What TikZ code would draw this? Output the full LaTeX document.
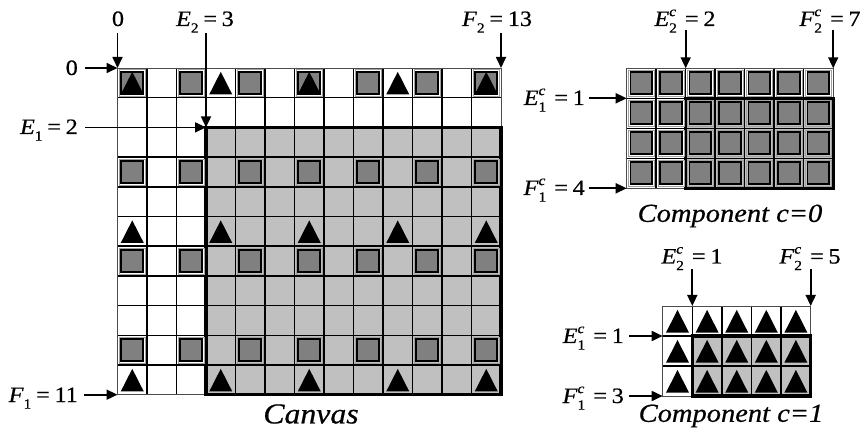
\documentclass[tikz,border=0pt]{standalone}
\usepackage{fontspec}
\setmainfont{Liberation Serif}[FakeStretch=1.1,FakeBold=0.6]
\usetikzlibrary{arrows.meta}
\definecolor{cellshade}{HTML}{C0C0C0}
\definecolor{sqfill}{HTML}{808080}
\definecolor{halo}{HTML}{A0A0A0}
\newcommand\lfont{\fontsize{22}{24}\selectfont}
\newcommand\smallf{\fontsize{14}{14}\selectfont}
\newcommand\labsub[2]{\textit{#1}\raisebox{-0.3em}{\smallf #2}}
\newcommand\labss[3]{\textit{#1}\makebox[0.5em][l]{\rlap{\raisebox{-0.3em}{\smallf #2}}\raisebox{0.45em}{\smallf\textit{#3}}}}
\newcommand\eqs{\hspace{0.22em}=\hspace{0.22em}}
\tikzset{
  gridline/.style={line width=1.5bp, draw=black},
  outline/.style={line width=0.9bp, draw=black!70},
  thickbox/.style={line width=3.2bp, draw=black},
  arr/.style={line width=1.7bp, -{Triangle[length=11bp,width=10bp]}},
  lbl/.style={font=\lfont, inner sep=0pt},
  capt/.style={font=\fontsize{26}{30}\selectfont\itshape, inner sep=0pt},
  bigcapt/.style={font=\fontsize{29}{32}\selectfont\itshape, inner sep=0pt},
  sqhalo/.style={draw=halo, line width=0.7bp},
  sqbox/.style={draw=black, fill=sqfill, line width=1.8bp},
  sqm/.pic={\draw[sqhalo] (-0.44,-0.44) rectangle (0.44,0.44);
            \draw[sqbox] (-0.37,-0.37) rectangle (0.37,0.37);},
  trm/.pic={\fill[black] (-0.39,0.39) -- (0.39,0.39) -- (0,-0.37) -- cycle;}
}
\begin{document}
\begin{tikzpicture}[x=1bp,y=-1bp]
\useasboundingbox (0,0) rectangle (863,440);
% ---------- Canvas ----------
\begin{scope}[shift={(117.5,68)}, x=29.5bp, y=-29.7bp]
  \fill[cellshade] (3,2) rectangle (13,11);
  \foreach \i in {1,...,12} \draw[gridline] (\i,0) -- (\i,11);
  \foreach \j in {1,...,10} \draw[gridline] (0,\j) -- (13,\j);
  \draw[outline] (0,0) rectangle (13,11);
  \draw[thickbox] (3,2) rectangle (13,11);
  \foreach \r in {0,3,6,9} \foreach \c in {0,2,...,12} \pic at (\c+0.5,\r+0.5) {sqm};
  \foreach \r in {0,5,10} \foreach \c in {0,3,...,12} \pic at (\c+0.5,\r+0.5) {trm};
  \coordinate (cvO) at (0,0);
  \coordinate (cvC) at (3,2);
  \coordinate (cvF2) at (13,0);
  \coordinate (cvF1) at (0,11);
\end{scope}
% ---------- Component c=0 ----------
\begin{scope}[shift={(626.7,68.3)}, x=29.5bp, y=-30bp]
  \fill[cellshade] (2,1) rectangle (7,4);
  \foreach \i in {1,...,6} \draw[gridline] (\i,0) -- (\i,4);
  \foreach \j in {1,...,3} \draw[gridline] (0,\j) -- (7,\j);
  \draw[outline] (0,0) rectangle (7,4);
  \draw[thickbox] (2,1) rectangle (7,4);
  \foreach \r in {0,...,3} \foreach \c in {0,...,6} \pic at (\c+0.5,\r+0.5) {sqm};
  \coordinate (aE2) at (2,0);
  \coordinate (aF2) at (7,0);
  \coordinate (aE1) at (0,1);
  \coordinate (aF1) at (0,4);
\end{scope}
% ---------- Component c=1 ----------
\begin{scope}[shift={(662.7,306)}, x=29.6bp, y=-30bp]
  \fill[cellshade] (1,1) rectangle (5,3);
  \foreach \i in {1,...,4} \draw[gridline] (\i,0) -- (\i,3);
  \foreach \j in {1,2} \draw[gridline] (0,\j) -- (5,\j);
  \draw[outline] (0,0) rectangle (5,3);
  \draw[thickbox] (1,1) rectangle (5,3);
  \foreach \r in {0,...,2} \foreach \c in {0,...,4} \pic at (\c+0.5,\r+0.5) {trm};
  \coordinate (bE2) at (1,0);
  \coordinate (bF2) at (5,0);
  \coordinate (bE1) at (0,1);
  \coordinate (bF1) at (0,3);
\end{scope}
% ---------- Canvas labels ----------
\node[lbl, anchor=base] (lTop0) at (118,26) {0};
\node[lbl, anchor=base] (lE2) at (205,26) {\labsub{E}{2}\eqs 3};
\node[lbl, anchor=base] (lF2) at (497,26) {\labsub{F}{2}\eqs 13};
\node[lbl, anchor=base east] (lLeft0) at (78,75) {0};
\node[lbl, anchor=base east] (lE1) at (78,134) {\labsub{E}{1}\eqs 2};
\node[lbl, anchor=base east] (lF1) at (78,402) {\labsub{F}{1}\eqs 11};
\draw[arr, shorten <=7bp] (cvO |- lTop0.base) -- (cvO);
\draw[arr, shorten <=7bp] (cvC |- lE2.base) -- (cvC);
\draw[arr, shorten <=7bp] (cvF2 |- lF2.base) -- (cvF2);
\draw[arr, shorten <=7bp] (lLeft0.east |- cvO) -- (cvO);
\draw[arr, shorten <=7bp] (lE1.east |- cvC) -- (cvC);
\draw[arr, shorten <=6bp] (lF1.east |- cvF1) -- (cvF1);
\node[bigcapt] (capCanvas) at (311,414) {Canvas};
% ---------- Component c=0 labels ----------
\node[lbl, anchor=base] (aLE2) at (685,26) {\labss{E}{2}{c}\eqs 2};
\node[lbl, anchor=base] (aLF2) at (830,26) {\labss{F}{2}{c}\eqs 7};
\node[lbl, anchor=base east] (aLE1) at (585,105) {\labss{E}{1}{c}\eqs 1};
\node[lbl, anchor=base east] (aLF1) at (585,195) {\labss{F}{1}{c}\eqs 4};
\draw[arr, shorten <=4bp] (aE2 |- aLE2.base) -- (aE2);
\draw[arr, shorten <=4bp] (aF2 |- aLF2.base) -- (aF2);
\draw[arr, shorten <=4bp] (aLE1.east |- aE1) -- (aE1);
\draw[arr, shorten <=4bp] (aLF1.east |- aF1) -- (aF1);
\node[capt] (capC0) at (730,216) {Component c=0};
% ---------- Component c=1 labels ----------
\node[lbl, anchor=base] (bLE2) at (692,263.5) {\labss{E}{2}{c}\eqs 1};
\node[lbl, anchor=base] (bLF2) at (810,263.5) {\labss{F}{2}{c}\eqs 5};
\node[lbl, anchor=base east] (bLE1) at (624,343) {\labss{E}{1}{c}\eqs 1};
\node[lbl, anchor=base east] (bLF1) at (624,403) {\labss{F}{1}{c}\eqs 3};
\draw[arr, shorten <=6bp] (bE2 |- bLE2.base) -- (bE2);
\draw[arr, shorten <=6bp] (bF2 |- bLF2.base) -- (bF2);
\draw[arr, shorten <=5bp] (bLE1.east |- bE1) -- (bE1);
\draw[arr, shorten <=5bp] (bLF1.east |- bF1) -- (bF1);
\node[capt] (capC1) at (731,416) {Component c=1};
\end{tikzpicture}
\end{document}
